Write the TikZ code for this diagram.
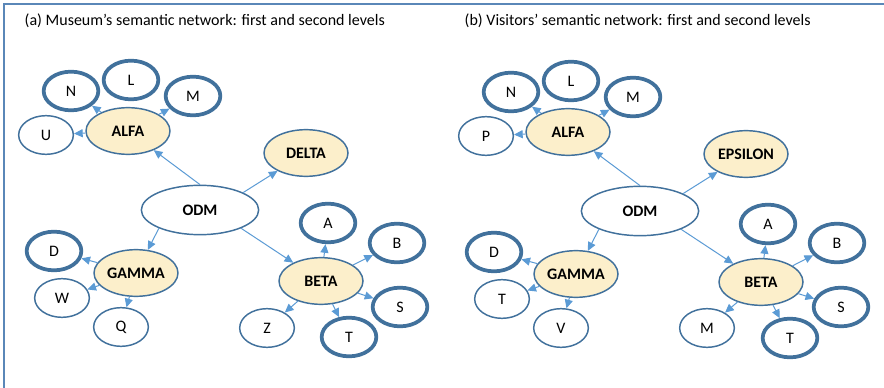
\documentclass[tikz,border=0pt]{standalone}
\usepackage{fontspec}
\setmainfont{Carlito}
\usetikzlibrary{shapes.geometric,arrows.meta}
\definecolor{rim}{HTML}{41719C}
\definecolor{linkc}{HTML}{5B9BD5}
\definecolor{core}{HTML}{FCEFCB}
\definecolor{framec}{HTML}{5A87B8}

\begin{document}
\begin{tikzpicture}[x=0.75pt,y=-0.75pt,
  every node/.style={font=\fontsize{12}{14}\selectfont},
  title/.style={anchor=west,font=\fontsize{12}{14}\selectfont},
  hub/.style={ellipse,draw=rim,fill=white,line width=1.1pt,minimum width=88pt,minimum height=37pt,inner sep=0pt,font=\fontsize{12}{14}\selectfont\bfseries},
  concept/.style={ellipse,draw=rim,fill=core,line width=1.1pt,minimum width=63pt,minimum height=35pt,inner sep=0pt,font=\fontsize{12}{14}\selectfont\bfseries},
  leaf/.style={ellipse,draw=rim,fill=white,line width=1.1pt,minimum width=41pt,minimum height=29pt,inner sep=0pt},
  strong/.style={leaf,line width=2.8pt},
  link/.style={draw=linkc,line width=0.75pt,-{Triangle[length=6.5pt,width=6pt]}}
]
\useasboundingbox (0,0) rectangle (884,388);
\fill[white] (0,0) rectangle (884,388);
\draw[framec,line width=1.2pt] (4,388) -- (4,4) -- (884,4);

% ---------- (a) museum network ----------
\node[title] (ta) at (20,21) {(a) Museum’s semantic network: first and second levels};
\node[hub] (aODM) at (200,210) {ODM};
\node[concept] (aALFA) at (128,131) {ALFA};
\node[concept] (aDELTA) at (306,153) {DELTA};
\node[concept] (aGAMMA) at (136,273) {GAMMA};
\node[concept] (aBETA) at (321,281) {BETA};
\node[strong] (aN) at (71,91) {N};
\node[strong] (aL) at (131,80) {L};
\node[strong] (aM) at (193,96) {M};
\node[leaf] (aU) at (46,135) {U};
\node[strong] (aD) at (54,251) {D};
\node[leaf] (aW) at (62,298) {W};
\node[leaf] (aQ) at (121,327) {Q};
\node[strong] (aA) at (328,223) {A};
\node[strong] (aB) at (397,243) {B};
\node[strong] (aS) at (400,307) {S};
\node[strong] (aT) at (349,337) {T};
\node[leaf] (aZ) at (267,328) {Z};

\draw[link] (aODM.north) -- (aALFA);
\draw[link] (aODM.22) -- (aDELTA);
\draw[link] (aODM.204) -- (aGAMMA);
\draw[link] (aODM.-24) -- (aBETA);
\draw[link] (aALFA) -- (aN);
\draw[link] (aALFA) -- (aM);
\draw[link] (aALFA) -- (aU);
\draw[link] (aGAMMA) -- (aD);
\draw[link] (aGAMMA) -- (aW);
\draw[link] (aGAMMA) -- (aQ);
\draw[link] (aBETA) -- (aA);
\draw[link] (aBETA) -- (aB);
\draw[link] (aBETA) -- (aS);
\draw[link] (aBETA) -- (aT);
\draw[link] (aBETA) -- (aZ);

% ---------- (b) visitors network ----------
\node[title] (tb) at (460,21) {(b) Visitors’ semantic network: first and second levels};
\node[hub] (bODM) at (640,211) {ODM};
\node[concept] (bALFA) at (568,132) {ALFA};
\node[concept] (bEPS) at (746,154) {EPSILON};
\node[concept] (bGAMMA) at (576,274) {GAMMA};
\node[concept] (bBETA) at (761,282) {BETA};
\node[strong] (bN) at (511,92) {N};
\node[strong] (bL) at (571,81) {L};
\node[strong] (bM) at (633,97) {M};
\node[leaf] (bP) at (486,136) {P};
\node[strong] (bD) at (494,252) {D};
\node[leaf] (bT) at (502,299) {T};
\node[leaf] (bV) at (561,328) {V};
\node[strong] (bA) at (768,224) {A};
\node[strong] (bB) at (837,243) {B};
\node[strong] (bS) at (841,307) {S};
\node[strong] (bTT) at (790,338) {T};
\node[leaf] (bMM) at (707,328) {M};

\draw[link] (bODM.north) -- (bALFA);
\draw[link] (bODM.22) -- (bEPS);
\draw[link] (bODM.204) -- (bGAMMA);
\draw[link] (bODM.-24) -- (bBETA);
\draw[link] (bALFA) -- (bN);
\draw[link] (bALFA) -- (bM);
\draw[link] (bALFA) -- (bP);
\draw[link] (bGAMMA) -- (bD);
\draw[link] (bGAMMA) -- (bT);
\draw[link] (bGAMMA) -- (bV);
\draw[link] (bBETA) -- (bA);
\draw[link] (bBETA) -- (bB);
\draw[link] (bBETA) -- (bS);
\draw[link] (bBETA) -- (bTT);
\draw[link] (bBETA) -- (bMM);
\end{tikzpicture}
\end{document}
